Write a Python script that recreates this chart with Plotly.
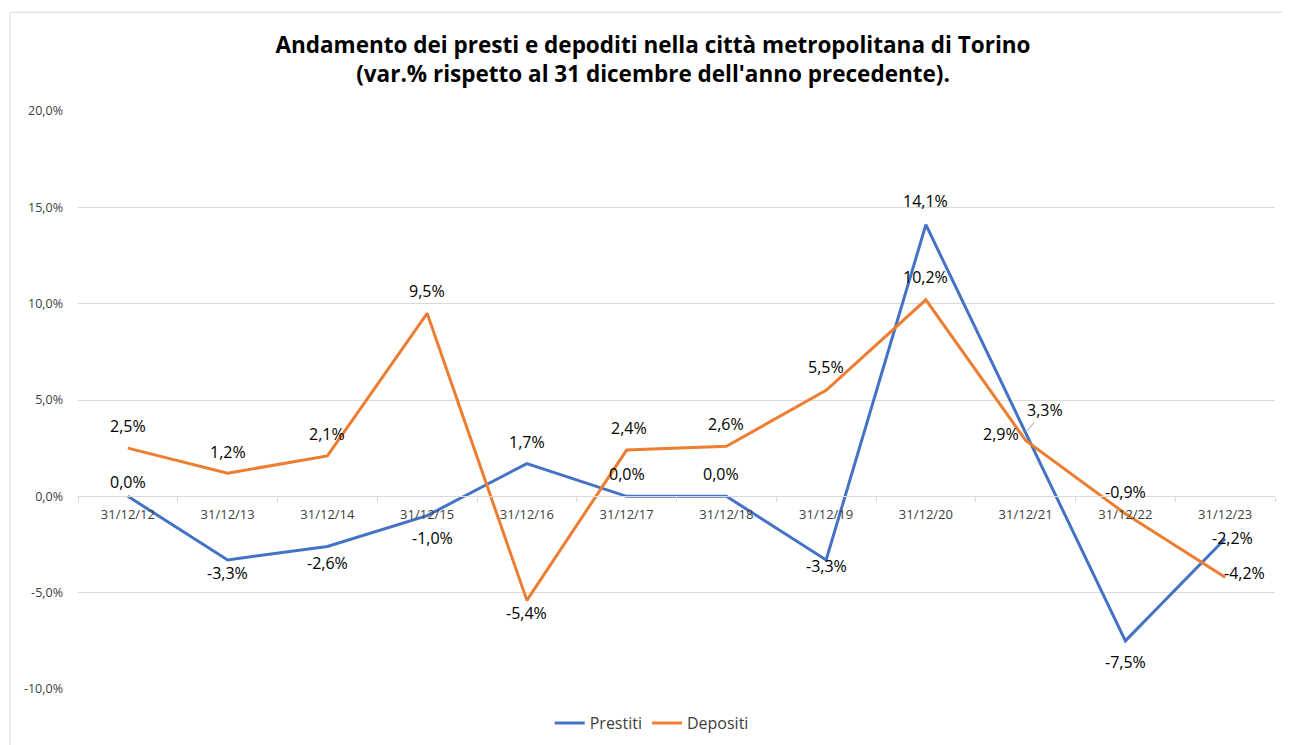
import plotly.graph_objects as go

dates = ["31/12/12", "31/12/13", "31/12/14", "31/12/15", "31/12/16", "31/12/17",
         "31/12/18", "31/12/19", "31/12/20", "31/12/21", "31/12/22", "31/12/23"]
prestiti = [0.0, -3.3, -2.6, -1.0, 1.7, 0.0, 0.0, -3.3, 14.1, 3.3, -7.5, -2.2]
depositi = [2.5, 1.2, 2.1, 9.5, -5.4, 2.4, 2.6, 5.5, 10.2, 2.9, -0.9, -4.2]
y_ticks = [-10, -5, 0, 5, 10, 15, 20]

# label offsets in pixels (dx, dy) relative to each point
off_prestiti = [(0, 14), (0, -13), (0, -17), (5, -22), (0, 22), (0, 22),
                (-5, 22), (0, -6), (0, 24), None, (0, -21), (7, 1)]
off_depositi = [(0, 22), (0, 21), (0, 22), (0, 22), (0, -13), (2, 22),
                (0, 22), (0, 23), (0, 23), (-25, 6), (0, 22), (19, 4)]


def fmt(v):
    return f"{v:.1f}%".replace(".", ",")


FONT = "Open Sans, Liberation Sans, sans-serif"
LABEL_FONT = dict(size=16, color="#000000", family=FONT)

fig = go.Figure()

fig.add_trace(go.Scatter(
    x=dates, y=prestiti, name="Prestiti", mode="lines",
    line=dict(color="#4472C4", width=3),
))
fig.add_trace(go.Scatter(
    x=dates, y=depositi, name="Depositi", mode="lines",
    line=dict(color="#ED7D31", width=3),
))

for series, offs in ((prestiti, off_prestiti), (depositi, off_depositi)):
    for d, v, o in zip(dates, series, offs):
        if o is None:
            # label with leader line
            fig.add_annotation(
                x=d, y=v, text=fmt(v), showarrow=True, arrowhead=0,
                arrowwidth=1, arrowcolor="#a6a6a6", standoff=2,
                ax=19, ay=-23, font=LABEL_FONT,
            )
        else:
            fig.add_annotation(
                x=d, y=v, text=fmt(v), showarrow=False,
                xshift=o[0], yshift=o[1], font=LABEL_FONT,
            )

fig.update_layout(
    width=1290, height=745,
    margin=dict(l=70, r=23, t=103, b=64),
    paper_bgcolor="white", plot_bgcolor="white",
    separators=",.",
    title=dict(
        text="<b>Andamento dei presti e depoditi nella città metropolitana di Torino<br>"
             "(var.% rispetto al 31 dicembre dell'anno precedente).</b>",
        x=0.5, xanchor="center", y=0.9395, yanchor="middle",
        font=dict(size=22.5, color="#000000", family=FONT),
    ),
    legend=dict(
        orientation="h", x=0.4793, xanchor="center", y=-0.0588, yanchor="middle",
        font=dict(size=16, color="#404040", family=FONT),
    ),
    showlegend=True,
)

fig.update_xaxes(
    type="category", range=[-0.5, 11.5],
    anchor="free", position=1 / 3,
    showgrid=False, showline=True, linecolor="#d9d9d9", linewidth=1,
    ticks="outside", tickson="boundaries", ticklen=5, tickcolor="#d9d9d9",
    ticklabelstandoff=6,
    tickfont=dict(size=13, color="#404040", family=FONT),
)
fig.update_yaxes(
    range=[-10, 20], tickvals=y_ticks, ticktext=[fmt(t) for t in y_ticks],
    showgrid=True, gridcolor="#d9d9d9", gridwidth=1, zeroline=False,
    showline=False, ticklabelstandoff=14,
    tickfont=dict(size=12.5, color="#404040", family=FONT),
)

# chart area border
fig.add_shape(type="rect", xref="paper", yref="paper",
              x0=-0.0568, x1=1.2, y0=-0.3, y1=1.171,
              line=dict(color="#d9d9d9", width=1), layer="below")

fig.write_html("out.html")
